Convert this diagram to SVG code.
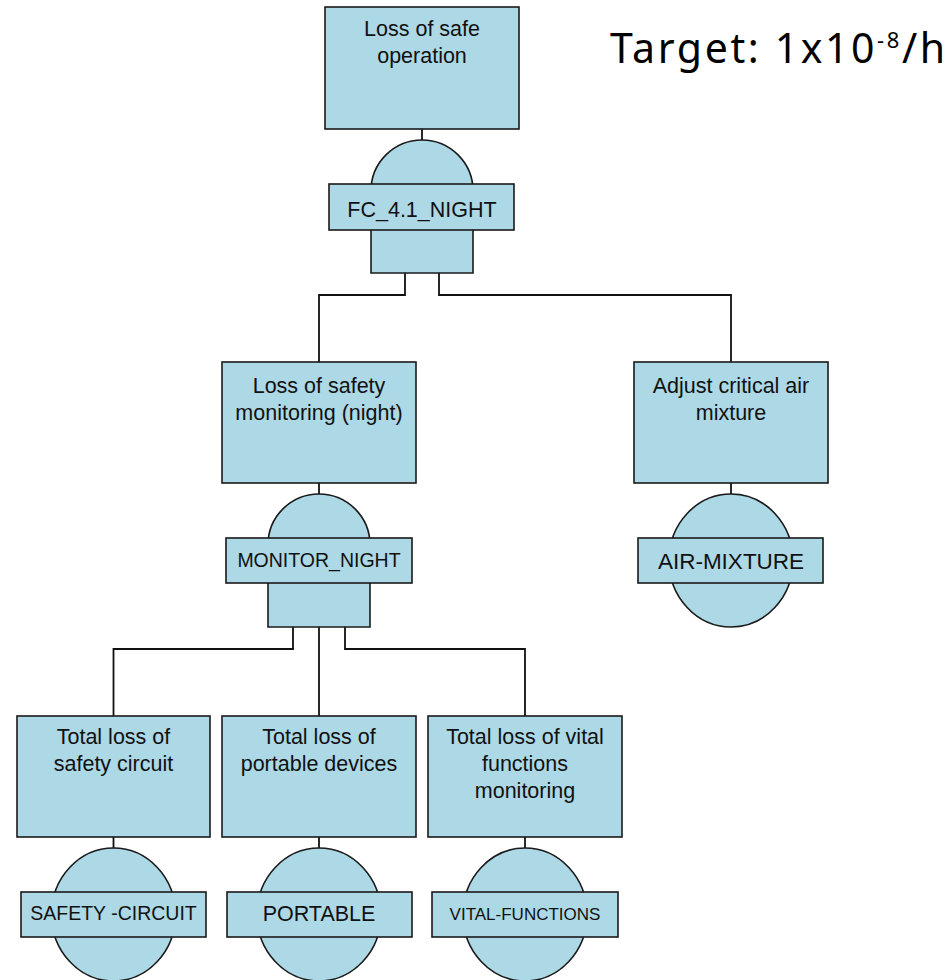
<svg xmlns="http://www.w3.org/2000/svg" width="952" height="980" viewBox="0 0 952 980">
<style>
.box{fill:#ADD8E6;stroke:#1a1a1a;stroke-width:1.6}
.gate{fill:#ADD8E6;stroke:#1a1a1a;stroke-width:1.6}
.lbl{fill:#ADD8E6;stroke:#1a1a1a;stroke-width:1.6}
.wire{fill:none;stroke:#111;stroke-width:1.8}
.t{font-family:"Liberation Sans",Arial,sans-serif;font-size:21.5px;fill:#111;text-anchor:middle}
.target{font-family:"Noto Sans",sans-serif;fill:#000;letter-spacing:2.6px}
</style>
<rect width="952" height="980" fill="#fff"/>
<g id="connectors">
<path class="wire" d="M422,129 V140"/>
<path class="wire" d="M405,273 V295 H319 V362"/>
<path class="wire" d="M439,273 V295 H731 V362"/>
<path class="wire" d="M319,483 V494"/>
<path class="wire" d="M731,483 V494"/>
<path class="wire" d="M293,627 V649 H113.5 V716"/>
<path class="wire" d="M319,627 V716"/>
<path class="wire" d="M345,627 V649 H525 V716"/>
<path class="wire" d="M113.5,837 V848"/>
<path class="wire" d="M319,837 V848"/>
<path class="wire" d="M525,837 V848"/>
</g>
<g id="top-event">
<rect class="box" x="325" y="7" width="194" height="122"/>
<text class="t" x="422" y="36">Loss of safe</text>
<text class="t" x="422" y="63">operation</text>
</g>
<g id="gate-fc">
<path class="gate" d="M371,273 V191 A51,51 0 0 1 473,191 V273 Z"/>
<rect class="lbl" x="329" y="184" width="185" height="46"/>
<text class="t" x="422" y="217">FC_4.1_NIGHT</text>
</g>
<g id="monitoring">
<rect class="box" x="222" y="362" width="194" height="121"/>
<text class="t" x="319" y="393">Loss of safety</text>
<text class="t" x="319" y="420">monitoring (night)</text>
</g>
<g id="gate-monitor">
<path class="gate" d="M268,627 V545 A51,51 0 0 1 370,545 V627 Z"/>
<rect class="lbl" x="226" y="538" width="186" height="45"/>
<text class="t" x="319" y="567" style="font-size:19.5px">MONITOR_NIGHT</text>
</g>
<g id="air">
<rect class="box" x="634" y="362" width="194" height="121"/>
<text class="t" x="731" y="393">Adjust critical air</text>
<text class="t" x="731" y="420">mixture</text>
</g>
<g id="event-air">
<ellipse class="gate" cx="731" cy="560.5" rx="62" ry="66.5"/>
<rect class="lbl" x="638" y="538" width="185" height="45"/>
<text class="t" x="731" y="569" style="font-size:22.5px">AIR-MIXTURE</text>
</g>
<g id="safety-circuit">
<rect class="box" x="17" y="716" width="193" height="121"/>
<text class="t" x="113.5" y="744">Total loss of</text>
<text class="t" x="113.5" y="771">safety circuit</text>
</g>
<g id="event-safety">
<ellipse class="gate" cx="113.5" cy="914.5" rx="62" ry="66.5"/>
<rect class="lbl" x="21" y="892" width="185" height="45"/>
<text class="t" x="113.5" y="920" style="font-size:19.5px">SAFETY -CIRCUIT</text>
</g>
<g id="portable">
<rect class="box" x="222" y="716" width="194" height="121"/>
<text class="t" x="319" y="744">Total loss of</text>
<text class="t" x="319" y="771">portable devices</text>
</g>
<g id="event-portable">
<ellipse class="gate" cx="319" cy="914.5" rx="62" ry="66.5"/>
<rect class="lbl" x="227" y="892" width="185" height="45"/>
<text class="t" x="319" y="921">PORTABLE</text>
</g>
<g id="vital">
<rect class="box" x="428" y="716" width="194" height="121"/>
<text class="t" x="525" y="744">Total loss of vital</text>
<text class="t" x="525" y="771">functions</text>
<text class="t" x="525" y="798">monitoring</text>
</g>
<g id="event-vital">
<ellipse class="gate" cx="525" cy="914.5" rx="62" ry="66.5"/>
<rect class="lbl" x="432" y="892" width="186" height="45"/>
<text class="t" x="525" y="920" style="font-size:17px">VITAL-FUNCTIONS</text>
</g>
<g id="target">
<text class="target" x="610" y="63" font-size="41">Target: 1x10<tspan font-size="22" dy="-15">-8</tspan><tspan font-size="41" dy="15">/h</tspan></text>
</g>
</svg>
